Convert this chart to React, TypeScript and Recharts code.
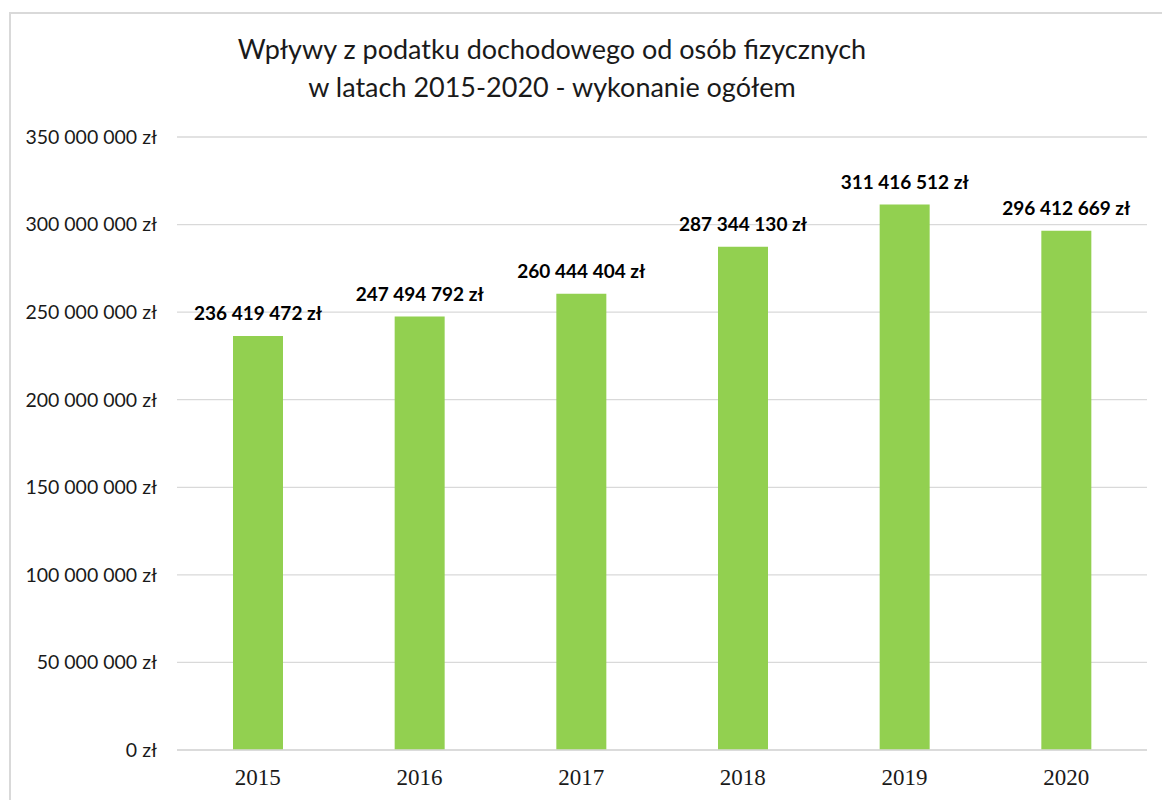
import React from "react";
import {
  BarChart,
  Bar,
  XAxis,
  YAxis,
  CartesianGrid,
  LabelList,
} from "recharts";

const years = ["2015", "2016", "2017", "2018", "2019", "2020"];
const revenue = [236419472, 247494792, 260444404, 287344130, 311416512, 296412669];
const yTicks = [0, 50000000, 100000000, 150000000, 200000000, 250000000, 300000000, 350000000];

const titleLines = [
  "Wpływy z podatku dochodowego od osób fizycznych",
  "w latach 2015-2020 - wykonanie ogółem",
];

const data = years.map((year, i) => ({ year, value: revenue[i] }));

const zl = (v: number) =>
  String(Math.round(v)).replace(/\B(?=(\d{3})+(?!\d))/g, " ") + " zł";

const font = "Lato, 'Open Sans', sans-serif";

// single-line value label above each bar
const ValueLabel = (props: any) => {
  const { x, y, width, value } = props;
  return (
    <text
      x={Number(x) + Number(width) / 2}
      y={Number(y) - 16}
      textAnchor="middle"
      fill="#000"
      fontSize={19}
      fontWeight={700}
      fontFamily={font}
    >
      {zl(Number(value))}
    </text>
  );
};

const App = () => {
  return (
    <div
      style={{
        position: "absolute",
        left: 0,
        top: 0,
        width: 1162,
        height: 800,
        background: "#fff",
        overflow: "hidden",
      }}
    >
      <div
        style={{
          position: "absolute",
          left: 9,
          top: 12,
          width: 1170,
          height: 820,
          borderLeft: "2px solid #d9d9d9",
          borderTop: "2px solid #d9d9d9",
        }}
      />
      <div
        style={{
          position: "absolute",
          left: 0,
          top: 30,
          width: 1104,
          textAlign: "center",
          fontFamily: font,
          fontSize: 27,
          lineHeight: "38px",
          color: "#1a1a1a",
        }}
      >
        {titleLines.map((t) => (
          <div key={t}>{t}</div>
        ))}
      </div>
      <div style={{ position: "absolute", left: 0, top: 0 }}>
        <BarChart
          width={1162}
          height={800}
          data={data}
          margin={{ top: 137, right: 15, bottom: 20, left: 7 }}
          barSize={50}
        >
          <CartesianGrid vertical={false} stroke="#d9d9d9" strokeWidth={1.3} />
          <XAxis
            dataKey="year"
            axisLine={{ stroke: "#d9d9d9", strokeWidth: 1.3 }}
            tickLine={false}
            tickSize={0}
            tickMargin={19}
            tick={{ fill: "#1a1a1a", fontSize: 23, fontFamily: "'Liberation Serif', serif" }}
          />
          <YAxis
            width={170}
            domain={[0, 350000000]}
            ticks={yTicks}
            tickFormatter={zl}
            axisLine={false}
            tickLine={false}
            tickSize={0}
            tickMargin={20}
            tick={{ fill: "#1a1a1a", fontSize: 19.5, fontFamily: font }}
          />
          <Bar dataKey="value" fill="#92d050" isAnimationActive={false}>
            <LabelList dataKey="value" content={ValueLabel} />
          </Bar>
        </BarChart>
      </div>
    </div>
  );
};

export default App;
